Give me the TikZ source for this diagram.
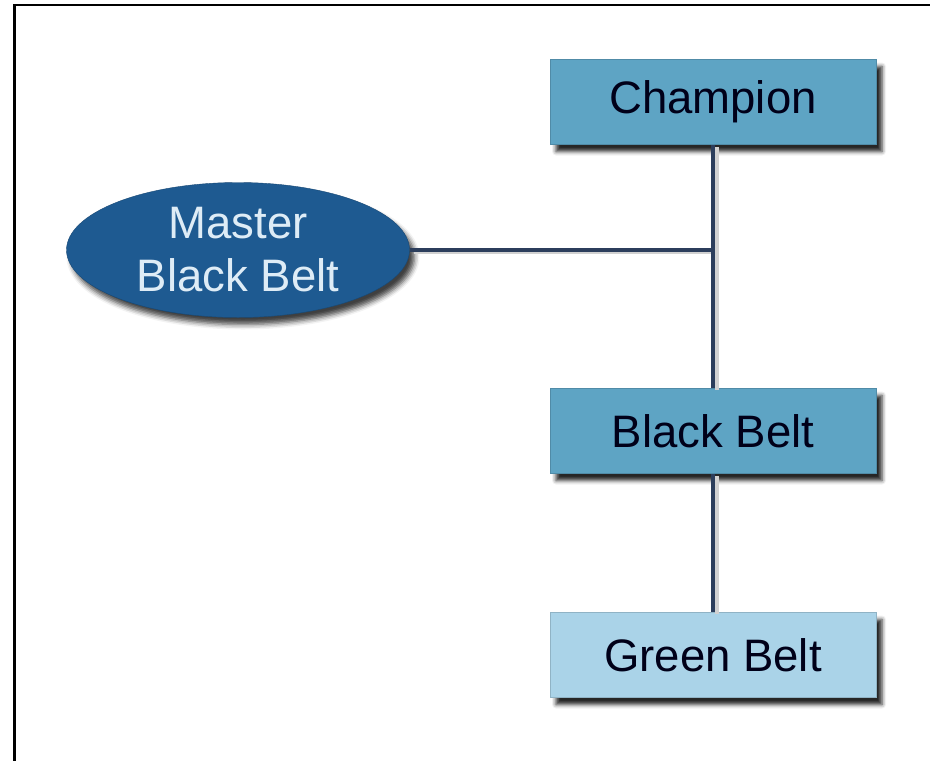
\documentclass[tikz,border=0pt]{standalone}
\usepackage{fontspec}
\setmainfont{Liberation Sans}
\usetikzlibrary{shapes.geometric,shadows.blur}
\definecolor{beltblue}{RGB}{94,164,196}
\definecolor{greenblue}{RGB}{170,211,232}
\definecolor{masterblue}{RGB}{30,90,145}
\definecolor{mastertext}{RGB}{222,236,246}
\definecolor{linknavy}{RGB}{44,62,92}
\tikzset{
	beltbox/.style={rectangle,fill=beltblue,draw=beltblue!85!black,line width=0.8pt,minimum width=326pt,minimum height=85pt,inner sep=0pt,text=black!90!blue,blur shadow={shadow xshift=6pt,shadow yshift=-7pt,shadow blur radius=4pt,shadow opacity=85}},
	link/.style={line width=4.5pt,draw=linknavy},
	linkshade/.style={line width=4pt,draw=black!18,transform canvas={xshift=4pt,yshift=-2pt}}
}
\begin{document}
\begin{tikzpicture}[x=1pt,y=-1pt,font=\fontsize{45.5}{53}\selectfont]
	\useasboundingbox (0,0) rectangle (930,761);
	\draw [line width=2.5pt] (14.5,761) -- (14.5,5) -- (930,5);
	
	\node (MasterBB) at (238,250) [ellipse,fill=masterblue,draw=masterblue!80!black,minimum width=343pt,minimum height=135pt,inner sep=0pt,align=center,text=mastertext,blur shadow={shadow xshift=5pt,shadow yshift=-7pt,shadow blur radius=5pt,shadow opacity=75}] {Master\\Black Belt};
	\begin{scope}[every node/.style={beltbox}]
		\node (Champion) at (713,102) {Champion};
		\node (BlackBelt) at (713,431) {Black Belt};
		\node (GreenBelt) at (713,655) [fill=greenblue,draw=greenblue!85!black] {Green Belt};
	\end{scope}
	\coordinate (Junction) at (MasterBB -| Champion);
	
	\draw [linkshade] (Champion) -- (BlackBelt) (BlackBelt) -- (GreenBelt) (MasterBB) -- (Junction);
	\draw [link] (Champion) -- (BlackBelt);
	\draw [link] (BlackBelt) -- (GreenBelt);
	\draw [link] (MasterBB) -- (Junction);
\end{tikzpicture}
\end{document}
